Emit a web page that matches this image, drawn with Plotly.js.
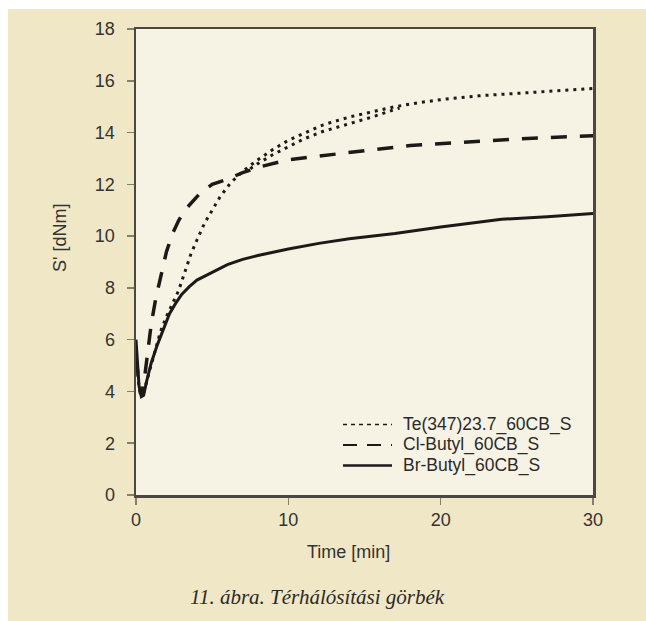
<!DOCTYPE html>
<html>
<head>
<meta charset="utf-8">
<script src="https://cdn.plot.ly/plotly-3.0.1.min.js"></script>
<style>
  html, body { margin: 0; padding: 0; background: #ffffff; width: 646px; height: 621px; overflow: hidden; }
  #chart { position: absolute; left: 8px; top: 9px; width: 638px; height: 612px; }
</style>
</head>
<body>
<div id="chart"></div>
<script>
// Te(347)23.7_60CB_S (dotted)
const teTime = [0, 0.15, 0.3, 0.5, 0.8, 1.2, 1.6, 2.0, 2.4, 2.8, 3.2, 3.6, 4.0, 4.5, 5.0, 5.5, 6.2, 7, 8, 9, 10, 11, 12.3, 14, 15.5, 17, 18.5, 20.4, 22.5, 24.8, 27, 30];
const teValue = [5.3, 4.4, 3.9, 3.95, 4.6, 5.5, 6.3, 6.9, 7.4, 7.9, 8.6, 9.3, 9.85, 10.5, 11.0, 11.5, 12.05, 12.5, 12.95, 13.35, 13.7, 13.95, 14.3, 14.6, 14.8, 15.0, 15.15, 15.3, 15.42, 15.5, 15.6, 15.7];
// second (repeat) measurement of the same compound, visible as a doubled dotted line
const teRepTime = [7.5, 8, 9, 10, 11, 12.3, 14, 15.5, 17.3];
const teRepValue = [12.6, 12.8, 13.15, 13.45, 13.75, 14.05, 14.35, 14.6, 14.95];
// Cl-Butyl_60CB_S (dashed)
const clTime = [0, 0.15, 0.3, 0.45, 0.7, 1.0, 1.3, 1.6, 2.0, 2.4, 2.8, 3.2, 3.7, 4.2, 5, 6, 7, 8.3, 10, 12, 15, 18, 21, 25, 30];
const clValue = [5.3, 4.5, 3.9, 4.0, 5.2, 6.6, 7.6, 8.4, 9.4, 10.1, 10.6, 11.0, 11.35, 11.65, 12.0, 12.2, 12.45, 12.7, 12.95, 13.1, 13.3, 13.5, 13.6, 13.75, 13.88];
// Br-Butyl_60CB_S (solid)
const brTime = [0, 0.1, 0.2, 0.35, 0.5, 0.7, 1.0, 1.4, 1.8, 2.2, 2.6, 3.0, 3.5, 4, 5, 6, 7, 8, 10, 12, 14, 17, 20, 24, 27, 30];
const brValue = [6.0, 5.0, 4.2, 3.8, 3.85, 4.4, 5.1, 5.8, 6.4, 7.0, 7.4, 7.75, 8.05, 8.3, 8.6, 8.9, 9.1, 9.25, 9.5, 9.72, 9.9, 10.1, 10.35, 10.65, 10.75, 10.87];

const seriesNames = ['Te(347)23.7_60CB_S', 'Cl-Butyl_60CB_S', 'Br-Butyl_60CB_S'];
const xTicks = [0, 10, 20, 30];
const yTicks = [0, 2, 4, 6, 8, 10, 12, 14, 16, 18];

const lineColor = '#1b1a18';
const plotDash = ['3px,5px', '16px,13px', 'solid'];
const plotWidth = [3, 3.5, 3];
const legendDash = ['4px,4px', '14px,10px', 'solid'];
const legendWidth = [1.5, 2.2, 2.5];

const traces = [
  { x: teTime, y: teValue, name: seriesNames[0], mode: 'lines', showlegend: false, line: { color: lineColor, width: plotWidth[0], dash: plotDash[0] } },
  { x: teRepTime, y: teRepValue, name: seriesNames[0], mode: 'lines', showlegend: false, line: { color: lineColor, width: plotWidth[0], dash: plotDash[0] } },
  { x: clTime, y: clValue, name: seriesNames[1], mode: 'lines', showlegend: false, line: { color: lineColor, width: plotWidth[1], dash: plotDash[1] } },
  { x: brTime, y: brValue, name: seriesNames[2], mode: 'lines', showlegend: false, line: { color: lineColor, width: plotWidth[2], dash: plotDash[2] } }
];

const axisFont = { family: 'Liberation Sans, Arial, sans-serif', size: 18, color: '#333333' };

// compact legend (reference rows are tighter than Plotly's built-in legend allows)
const legRowY = [0.1513, 0.1073, 0.0633];
const legShapes = seriesNames.map((n, i) => ({
  type: 'line', xref: 'paper', yref: 'paper', x0: 0.4530, x1: 0.5602, y0: legRowY[i], y1: legRowY[i],
  line: { color: lineColor, width: legendWidth[i], dash: legendDash[i] }
}));
const legAnnots = seriesNames.map((n, i) => ({
  text: n, xref: 'paper', yref: 'paper', x: 0.5821, y: legRowY[i], xanchor: 'left', yanchor: 'middle',
  showarrow: false, borderpad: 0, font: { family: 'Liberation Sans, Arial, sans-serif', size: 17.5, color: '#2a2a2a' }
}));

const layout = {
  width: 638, height: 612,
  margin: { l: 128, r: 53, t: 20, b: 126 },
  paper_bgcolor: '#f0e7c6',
  plot_bgcolor: '#f7f3e4',
  showlegend: false,
  xaxis: {
    range: [0, 30], tickvals: xTicks, ticktext: xTicks.map(String),
    showgrid: false, zeroline: false,
    showline: true, linecolor: '#4b4842', linewidth: 2.5, mirror: true,
    ticks: 'outside', ticklen: 7, tickwidth: 1.5, tickcolor: '#857f6a',
    ticklabelstandoff: 0,
    tickfont: axisFont
  },
  yaxis: {
    range: [0, 18], tickvals: yTicks, ticktext: yTicks.map(String),
    showgrid: false, zeroline: false,
    showline: true, linecolor: '#4b4842', linewidth: 2.5, mirror: true,
    ticks: 'outside', ticklen: 7, tickwidth: 1.5, tickcolor: '#857f6a',
    ticklabelstandoff: 8,
    tickfont: axisFont
  },
  shapes: legShapes,
  annotations: [
    { text: "S' [dNm]", xref: 'paper', yref: 'paper', x: -0.1663, y: 0.5515, showarrow: false, textangle: -90,
      xanchor: 'center', yanchor: 'middle', font: axisFont },
    { text: 'Time [min]', xref: 'paper', yref: 'paper', x: 0.4639, y: -0.1223, showarrow: false,
      xanchor: 'center', yanchor: 'middle', font: axisFont },
    { text: '11. ábra. Térhálósítási görbék', xref: 'paper', yref: 'paper', x: 0.3982, y: -0.2189, showarrow: false,
      xanchor: 'center', yanchor: 'middle',
      font: { family: 'Liberation Serif, Times New Roman, serif', size: 21, color: '#2a2a2a', style: 'italic' } }
  ].concat(legAnnots)
};

Plotly.newPlot('chart', traces, layout, { displayModeBar: false, staticPlot: true });
</script>
</body>
</html>
